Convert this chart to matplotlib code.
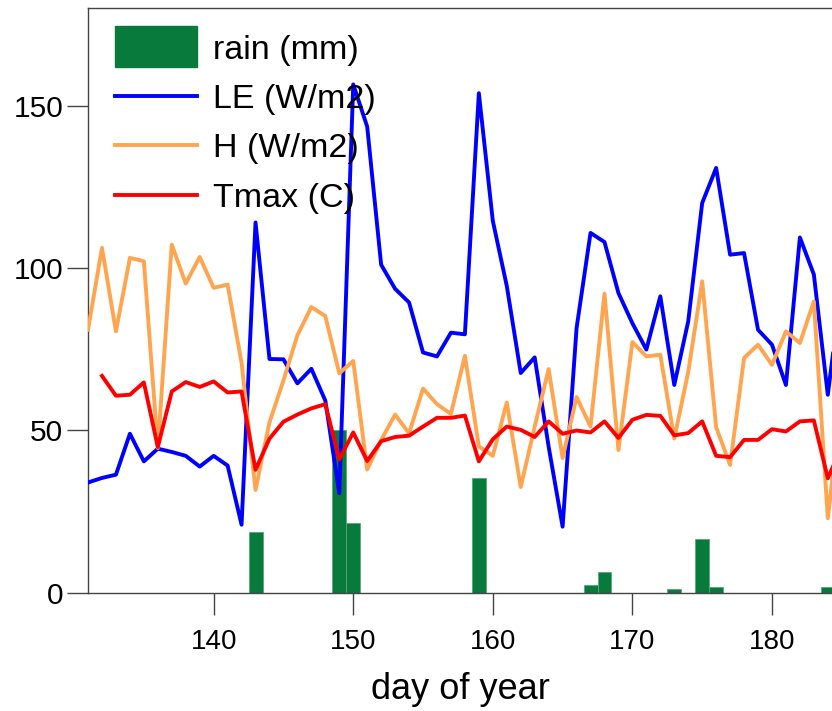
import numpy as np
import matplotlib
matplotlib.use("Agg")
import matplotlib.pyplot as plt
from matplotlib.patches import Rectangle, Patch
from matplotlib.lines import Line2D
from matplotlib.legend_handler import HandlerPatch

plt.rcParams['font.family'] = ['Liberation Sans', 'DejaVu Sans']

# day of year 131..185
days = np.arange(131, 186)

le = [34, 35.4, 36.4, 49, 40.5, 44.4, 43.4, 42.2, 38.9, 42.2,
      39.2, 21, 114, 72, 71.9, 64.5, 69, 59.2, 30.7, 156.5,
      143.5, 101, 93.6, 89.4, 74, 72.8, 80.1, 79.6, 153.8, 114.5,
      94.5, 67.7, 72.5, 45, 20.4, 81.5, 110.8, 108, 92.3, 83,
      74.9, 91.3, 64, 83.6, 120, 130.8, 104.1, 104.6, 81, 76.4,
      64, 109.4, 98, 61, 95]

h = [81, 106.2, 80.5, 103.1, 102.1, 44.6, 107.2, 95.2, 103.4, 93.9,
     94.9, 70.8, 31.7, 52.5, 65.4, 79.3, 88, 85.2, 67.6, 71.4,
     38, 47, 54.9, 49.1, 62.9, 58.1, 55.1, 73, 45.1, 42.2,
     58.6, 32.6, 51.2, 68.9, 41.5, 60.3, 51.2, 92.1, 44, 77.2,
     72.8, 73.3, 47.5, 68, 95.9, 51, 39.4, 72.3, 76.4, 70.2,
     80.5, 76.9, 89.7, 23, 60]

tmax = [np.nan, 66.8, 60.7, 61, 64.8, 44.9, 62, 64.9, 63.4, 65.1,
        61.7, 62, 37.9, 47.5, 52.7, 54.9, 56.8, 58.1, 41.1, 49.4,
        40.6, 46.7, 48, 48.4, 51.2, 53.9, 53.9, 54.6, 40.5, 47.3,
        51.2, 50.2, 48, 52.8, 49, 50, 49.4, 52.8, 47.7, 53.3,
        54.8, 54.5, 48.5, 49.2, 52.8, 42.2, 41.8, 47.1, 47.1, 50.4,
        49.7, 52.8, 53.1, 35.3, 45]

rain_days = [143, 149, 150, 159, 167, 168, 173, 175, 176, 184]
rain_mm = [18.9, 50, 21.5, 35.5, 2.5, 6.5, 1.3, 16.7, 1.8, 1.8]

GREEN = '#087a3c'
BLUE = '#0000ff'
ORANGE = '#ffa550'
RED = '#ff0000'


def tall_patch(legend, orig_handle, xdescent, ydescent, width, height, fontsize):
    # taller box for the rain entry
    extra = height * 0.75
    return Rectangle((-xdescent, -ydescent - extra / 2), width, height + extra)


fig = plt.figure(figsize=(8.32, 7.11), dpi=100)
ax = fig.add_axes([0.1058, 0.166, 0.8942, 0.8227])

ax.bar(rain_days, rain_mm, width=1.0, color=GREEN, edgecolor='#5aa57a', linewidth=0.6, zorder=1)
ax.plot(days, le, color=BLUE, lw=2.8, zorder=3)
ax.plot(days, h, color=ORANGE, lw=2.8, zorder=3)
ax.plot(days, tmax, color=RED, lw=2.8, zorder=4)

ax.set_xlim(131, 184.3)
ax.set_ylim(0, 180)
ax.set_xticks([140, 150, 160, 170, 180])
ax.set_yticks([0, 50, 100, 150])

ax.spines['right'].set_visible(False)
for side in ['left', 'top', 'bottom']:
    ax.spines[side].set_color('#444444')
    ax.spines[side].set_linewidth(1.0)

ax.tick_params(axis='y', direction='out', length=15, width=1, color='#444444',
               labelsize=21.5, pad=3)
ax.tick_params(axis='x', direction='out', length=16, width=1, color='#444444',
               labelsize=20, pad=10)
ax.set_xlabel('day of year', fontsize=26, labelpad=12)

handles = [Patch(color=GREEN),
           Line2D([], [], color=BLUE, lw=2.8),
           Line2D([], [], color=ORANGE, lw=2.8),
           Line2D([], [], color=RED, lw=2.8)]
labels = ['rain (mm)', 'LE (W/m2)', 'H (W/m2)', 'Tmax (C)']
ax.legend(handles, labels, loc='upper left', frameon=False, fontsize=24.5,
          handlelength=2.4, handletextpad=0.47, labelspacing=0.54,
          borderaxespad=0, bbox_to_anchor=(0.018, 0.978),
          handler_map={Patch: HandlerPatch(patch_func=tall_patch)})

fig.savefig('out.png', dpi=100)
